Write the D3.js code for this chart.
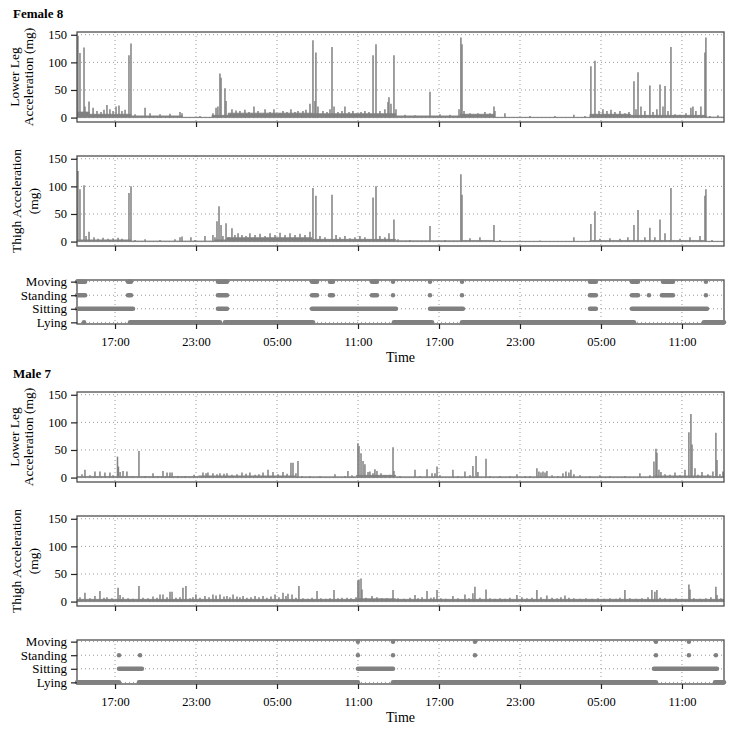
<!DOCTYPE html>
<html>
<head>
<meta charset="utf-8">
<script src="https://cdn.jsdelivr.net/npm/d3@7"></script>
<style>
body { margin: 0; background: #fff; }
svg text { font-family: "Liberation Serif", "Times New Roman", serif; fill: #000; }
</style>
</head>
<body>
<svg id="chart" width="734" height="732"></svg>
<script>
"use strict";

// Recording starts at 14:11; every time below is hours since the start.
const startTime = new Date(2014, 0, 1, 14, 11);
const durationHours = 47.93;

const stateNames = ["Lying", "Sitting", "Standing", "Moving"];
const yTicks = [0, 50, 100, 150];
const xTickLabels = ["17:00", "23:00", "05:00", "11:00"];

// ---- Female 8 ----
// baseline level steps [hour, mg]
const f8LegBase = [[0,10],[0.9,6],[4.0,3],[7.8,0.5],[10.0,4],[11.2,8],[17.4,7],[23.6,3],[28.4,6],[30.9,0.5],[38.0,6],[41.0,4],[46.6,1]];
// peaks [hour, mg]
const f8LegPeaks = [[0.07,148],[0.22,117],[0.52,127],[0.59,20],[0.89,29],[1.19,18],[1.48,12],[1.78,10],[2.00,14],[2.22,23],[2.44,15],[2.67,12],[2.89,20],[3.11,22],[3.33,12],[3.56,14],[3.85,113],[4.00,134],[4.30,6],[5.04,18],[5.41,8],[6.15,6],[6.89,7],[7.63,10],[7.78,8],[9.11,3],[10.07,8],[10.30,18],[10.44,20],[10.59,80],[10.67,72],[10.96,53],[11.04,30],[11.48,15],[11.78,13],[12.07,12],[12.44,14],[12.74,10],[13.11,20],[13.41,12],[13.93,15],[14.30,10],[14.59,15],[15.04,8],[15.26,12],[15.56,10],[15.85,15],[16.15,10],[16.37,12],[16.74,12],[16.96,14],[17.26,25],[17.48,140],[17.63,30],[17.70,118],[17.85,20],[18.22,12],[18.52,10],[18.74,15],[18.89,128],[19.04,20],[19.33,10],[19.63,12],[19.85,20],[20.15,10],[20.44,12],[20.74,8],[21.04,10],[21.33,12],[21.63,10],[21.93,113],[22.15,133],[22.44,12],[22.81,15],[23.04,28],[23.11,37],[23.26,25],[23.48,113],[23.63,15],[24.30,5],[25.04,4],[26.15,47],[26.89,6],[27.63,5],[28.30,15],[28.44,145],[28.52,133],[28.67,12],[29.11,8],[29.70,8],[30.22,10],[30.59,8],[30.89,20],[30.96,12],[31.70,8],[33.56,3],[35.41,3],[36.81,5],[37.63,3],[38.07,93],[38.37,103],[38.67,12],[38.96,15],[39.26,12],[39.56,14],[39.85,10],[40.22,12],[40.59,8],[40.89,10],[41.26,66],[41.41,15],[41.56,82],[41.78,20],[42.07,12],[42.44,58],[42.67,10],[42.96,15],[43.19,60],[43.41,20],[43.56,57],[43.78,12],[44.00,128],[44.30,6],[44.67,5],[45.11,8],[45.48,18],[45.63,20],[45.85,12],[46.22,20],[46.52,118],[46.59,145],[46.89,3],[47.48,4]];

const f8ThighBase = [[0,3],[4.0,1],[10.2,3],[11.1,7],[17.4,4],[23.6,1.5],[28.4,2],[30.9,0.5],[38.0,2],[46.6,0.5]];
const f8ThighPeaks = [[0.07,128],[0.22,95],[0.52,102],[0.67,10],[0.89,18],[1.26,8],[1.56,5],[1.93,7],[2.30,5],[2.67,6],[3.04,7],[3.33,5],[3.85,88],[4.00,100],[4.30,3],[5.04,4],[6.15,3],[7.26,4],[7.63,8],[7.78,9],[8.44,8],[8.74,3],[9.48,10],[10.07,12],[10.22,8],[10.37,37],[10.52,64],[10.67,30],[10.81,10],[11.04,33],[11.26,8],[11.48,24],[11.70,12],[11.93,15],[12.22,12],[12.52,10],[12.81,15],[13.19,12],[13.56,14],[13.93,10],[14.30,15],[14.67,12],[15.04,16],[15.41,12],[15.78,15],[16.15,12],[16.52,14],[16.89,12],[17.26,18],[17.48,97],[17.70,83],[18.00,10],[18.37,8],[18.89,85],[19.19,12],[19.48,8],[19.85,10],[20.22,6],[20.59,8],[20.96,10],[21.33,8],[21.93,80],[22.15,100],[22.44,10],[22.81,8],[23.11,15],[23.48,40],[23.78,4],[24.67,3],[26.15,28],[27.26,3],[28.44,122],[28.52,85],[29.11,6],[29.85,8],[30.89,30],[31.33,3],[34.30,2],[36.81,8],[38.07,32],[38.37,55],[38.74,5],[39.48,6],[40.22,5],[40.81,8],[41.26,30],[41.56,57],[42.07,8],[42.44,25],[42.81,8],[43.19,40],[43.56,15],[44.00,97],[44.67,5],[45.41,8],[46.15,10],[46.52,83],[46.59,95],[47.04,3]];

// state intervals [from hour, to hour]
const f8Lying = [[0.52,0.52],[3.93,10.59],[10.96,17.48],[23.48,26.30],[28.52,38.22],[38.30,41.26],[46.44,47.93]];
const f8Sitting = [[0,4.15],[10.44,11.11],[17.41,23.63],[26.15,28.59],[38.0,38.44],[41.11,46.67]];
const f8Standing = [[0,0.6],[3.78,4.0],[10.44,11.11],[17.41,17.78],[18.74,18.96],[21.85,22.22],[23.41,23.41],[26.15,26.15],[28.52,28.52],[38.0,38.44],[41.11,41.56],[42.37,42.37],[43.33,44.15],[46.59,46.59]];
const f8Moving = [[0,0.6],[3.78,4.0],[10.44,11.11],[17.41,17.78],[18.74,18.96],[21.85,22.22],[23.41,23.41],[26.15,26.15],[28.52,28.52],[38.0,38.44],[41.11,41.56],[43.41,44.15],[46.59,46.59]];

// ---- Male 7 ----
const m7LegBase = [[0,2],[9.0,3],[16.2,1.5],[20.7,4],[23.6,1.5],[42.8,3],[47.0,2]];
const m7LegPeaks = [[0.37,6],[0.59,14],[0.96,4],[1.33,11],[1.70,11],[2.07,9],[2.44,9],[2.67,4],[3.00,38],[3.07,20],[3.19,10],[3.41,12],[3.70,11],[4.07,3],[4.59,48],[5.04,3],[5.63,8],[6.00,3],[6.37,12],[6.67,9],[6.89,9],[7.04,9],[7.48,3],[8.00,3],[8.67,5],[9.33,9],[9.56,8],[9.70,9],[10.07,8],[10.37,6],[10.59,8],[10.89,7],[11.11,8],[11.48,5],[11.85,6],[12.22,9],[12.52,7],[12.81,9],[13.19,5],[13.48,6],[13.78,9],[14.15,14],[14.52,10],[14.89,6],[15.26,10],[15.56,7],[15.85,27],[16.00,27],[16.22,8],[16.37,30],[16.67,3],[17.26,3],[18.00,3],[19.11,6],[19.85,3],[20.07,12],[20.37,4],[20.81,62],[20.89,57],[21.04,44],[21.19,30],[21.33,24],[21.56,10],[21.70,11],[21.93,8],[22.07,15],[22.22,12],[22.52,8],[22.81,4],[23.19,5],[23.41,55],[23.48,12],[23.93,3],[25.04,14],[25.41,3],[25.93,15],[26.30,8],[26.52,8],[26.67,20],[26.89,4],[27.85,14],[28.22,3],[28.74,11],[29.11,4],[29.33,21],[29.56,39],[29.70,10],[30.30,34],[30.59,3],[31.33,3],[32.07,3],[32.59,6],[33.19,3],[33.56,3],[34.07,17],[34.22,11],[34.37,9],[34.52,11],[34.67,9],[34.81,12],[35.19,4],[35.63,3],[36.00,8],[36.22,11],[36.44,9],[36.59,14],[36.81,6],[37.26,4],[38.00,3],[38.74,4],[39.48,3],[40.59,3],[41.70,8],[42.44,4],[42.74,29],[42.89,52],[42.96,45],[43.11,14],[43.26,10],[43.56,6],[43.93,5],[44.30,9],[44.67,4],[45.04,14],[45.33,82],[45.48,115],[45.56,60],[45.78,17],[46.00,5],[46.30,10],[46.74,6],[47.11,11],[47.33,81],[47.41,32],[47.63,6],[47.85,11]];

const m7ThighBase = [[0,4],[20.7,5],[23.6,4]];
const m7ThighPeaks = [[0.22,8],[0.59,16],[0.96,6],[1.33,10],[1.70,19],[2.00,7],[2.22,8],[2.59,6],[3.04,25],[3.19,12],[3.41,8],[3.78,6],[4.15,5],[4.59,28],[4.89,7],[5.26,6],[5.63,9],[5.93,7],[6.15,13],[6.37,13],[6.67,8],[6.89,18],[7.04,18],[7.33,7],[7.63,8],[7.85,25],[8.07,28],[8.37,6],[8.59,8],[8.81,13],[9.11,7],[9.48,10],[9.78,8],[10.07,13],[10.30,11],[10.59,13],[10.89,9],[11.11,10],[11.33,8],[11.56,13],[11.85,9],[12.07,8],[12.30,10],[12.59,7],[12.89,8],[13.19,10],[13.48,8],[13.78,10],[14.07,7],[14.37,9],[14.67,13],[14.96,8],[15.26,16],[15.48,10],[15.63,14],[15.93,13],[16.22,7],[16.44,28],[16.74,6],[17.11,5],[17.41,7],[17.78,19],[18.07,6],[18.44,5],[18.74,6],[19.04,21],[19.33,6],[19.63,7],[20.00,7],[20.30,6],[20.67,8],[20.81,38],[20.89,40],[21.04,42],[21.11,22],[21.41,7],[21.85,10],[22.22,8],[22.59,6],[22.96,6],[23.41,21],[23.78,6],[24.22,5],[24.67,7],[25.04,12],[25.26,6],[25.56,8],[25.93,19],[26.22,7],[26.44,8],[26.67,21],[26.96,6],[27.33,5],[27.85,10],[28.22,6],[28.74,13],[29.04,6],[29.33,15],[29.48,27],[29.85,7],[30.30,22],[30.59,6],[30.96,5],[31.33,6],[31.70,5],[32.07,7],[32.59,12],[32.96,8],[33.33,6],[33.70,7],[34.07,21],[34.37,8],[34.81,11],[35.19,7],[35.56,6],[35.85,8],[36.15,11],[36.44,7],[36.81,6],[37.26,5],[37.70,6],[38.15,5],[38.59,6],[39.04,5],[39.48,6],[39.93,5],[40.22,7],[40.59,21],[40.96,6],[41.41,5],[41.85,6],[42.30,8],[42.59,21],[42.81,18],[42.96,21],[43.19,7],[43.56,6],[43.93,5],[44.37,6],[44.81,5],[45.33,31],[45.41,22],[45.70,6],[46.15,5],[46.59,6],[46.96,8],[47.33,27],[47.41,12],[47.70,6]];

const m7Lying = [[0,3.11],[4.59,20.81],[23.41,42.89],[47.26,47.93]];
const m7Sitting = [[3.11,4.81],[20.81,23.41],[42.74,47.41]];
const m7Standing = [[3.11,3.11],[4.67,4.67],[20.81,20.81],[23.41,23.41],[29.48,29.48],[42.89,42.89],[45.33,45.33],[47.33,47.33]];
const m7Moving = [[20.81,20.81],[23.41,23.41],[29.48,29.48],[42.89,42.89],[45.33,45.33]];

// ---- drawing ----
const svg = d3.select("#chart");
const left = 77, right = 724;
const markColor = "#808080";
const frameColor = "#4d4d4d";
const gridColor = "#9a9a9a";

const at = h => new Date(startTime.getTime() + h * 3600e3);
const x = d3.scaleTime().domain([startTime, at(durationHours)]).range([left, right]);
const fmt = d3.timeFormat("%H:%M");
const xTicks = d3.timeHour.range(startTime, at(durationHours)).filter(d => xTickLabels.includes(fmt(d)));

let clipCount = 0;

function frame(g, top, h) {
    g.append("rect")
        .attr("x", left).attr("y", top)
        .attr("width", right - left).attr("height", h)
        .attr("fill", "none")
        .attr("stroke", frameColor)
        .attr("stroke-width", 1.3);
}

function clip(top, h) {
    const id = "clip" + (clipCount++);
    svg.append("clipPath").attr("id", id)
        .append("rect").attr("x", left).attr("y", top).attr("width", right - left).attr("height", h);
    return "url(#" + id + ")";
}

function verticalGrid(g, top, h) {
    g.selectAll(".vgrid").data(xTicks).enter().append("line")
        .attr("class", "vgrid")
        .attr("x1", d => x(d)).attr("x2", d => x(d))
        .attr("y1", top).attr("y2", top + h)
        .attr("stroke", gridColor).attr("stroke-width", 1)
        .attr("stroke-dasharray", "1,3");
}

function bottomAxis(g, top, h, withLabels) {
    const ax = d3.axisBottom(x).tickValues(xTicks).tickSize(5).tickPadding(8)
        .tickFormat(withLabels ? fmt : "");
    const a = g.append("g").attr("transform", `translate(0,${top + h})`).call(ax);
    a.select(".domain").remove();
    a.selectAll(".tick line").attr("stroke", "#222").attr("stroke-width", 1.2);
    a.selectAll("text").style("font-size", "12.5px").style("font-family", "Liberation Serif, serif");
}

function accPanel(top, base, peaks, labelLines, labelX) {
    const h = 90;
    const g = svg.append("g");
    const y = d3.scaleLinear().domain([-8, 155]).range([top + h, top]);

    // dotted grid
    g.selectAll(".hgrid").data(yTicks).enter().append("line")
        .attr("class", "hgrid")
        .attr("x1", left).attr("x2", right)
        .attr("y1", d => y(d)).attr("y2", d => y(d))
        .attr("stroke", gridColor).attr("stroke-dasharray", "1,3");
    verticalGrid(g, top, h);

    const data = g.append("g").attr("clip-path", clip(top, h));

    // slowly varying floor of the signal
    const steps = base.concat([[durationHours, base[base.length - 1][1]]]);
    data.append("path")
        .datum(steps)
        .attr("fill", markColor)
        .attr("stroke", markColor)
        .attr("stroke-width", 0.8)
        .attr("d", d3.area().curve(d3.curveStepAfter)
            .x(d => x(at(d[0]))).y0(y(0)).y1(d => y(d[1])));

    // activity bursts
    data.selectAll(".peak").data(peaks).enter().append("line")
        .attr("class", "peak")
        .attr("x1", d => x(at(d[0]))).attr("x2", d => x(at(d[0])))
        .attr("y1", y(0)).attr("y2", d => y(d[1]))
        .attr("stroke", markColor).attr("stroke-width", 1.5);

    frame(g, top, h);

    const ax = d3.axisLeft(y).tickValues(yTicks).tickSize(6).tickPadding(4).tickSizeOuter(0);
    const a = g.append("g").attr("transform", `translate(${left},0)`).call(ax);
    a.select(".domain").remove();
    a.selectAll(".tick line").attr("stroke", "#222").attr("stroke-width", 1.2);
    a.selectAll("text").style("font-size", "12.5px").style("font-family", "Liberation Serif, serif");

    bottomAxis(g, top, h, false);

    const cy = top + h / 2;
    labelLines.forEach((txt, i) => {
        g.append("text")
            .attr("transform", `translate(${labelX[i]},${cy}) rotate(-90)`)
            .attr("text-anchor", "middle")
            .style("font-size", "13.5px")
            .text(txt);
    });
}

function statePanel(top, states) {
    const h = 44;
    const g = svg.append("g");
    const y = d3.scalePoint().domain(stateNames).range([top + h, top]).padding(0.12);

    g.selectAll(".hgrid").data(stateNames).enter().append("line")
        .attr("class", "hgrid")
        .attr("x1", left).attr("x2", right)
        .attr("y1", d => y(d)).attr("y2", d => y(d))
        .attr("stroke", gridColor).attr("stroke-dasharray", "1,3");
    verticalGrid(g, top, h);

    frame(g, top, h);

    const data = g.append("g");
    stateNames.forEach((name, i) => {
        data.selectAll(".s" + i).data(states[i]).enter().append("line")
            .attr("class", "s" + i)
            .attr("x1", d => x(at(d[0]))).attr("x2", d => x(at(d[1])))
            .attr("y1", y(name)).attr("y2", y(name))
            .attr("stroke", markColor)
            .attr("stroke-width", 4.5)
            .attr("stroke-linecap", "round");
    });

    const ax = d3.axisLeft(y).tickSize(6).tickPadding(4).tickSizeOuter(0);
    const a = g.append("g").attr("transform", `translate(${left},0)`).call(ax);
    a.select(".domain").remove();
    a.selectAll(".tick line").attr("stroke", "#222").attr("stroke-width", 1.2);
    a.selectAll("text").style("font-size", "13px").style("font-family", "Liberation Serif, serif");

    bottomAxis(g, top, h, true);

    g.append("text")
        .attr("x", (left + right) / 2).attr("y", top + h + 38)
        .attr("text-anchor", "middle")
        .style("font-size", "14px")
        .text("Time");
}

function subject(offset, title, legBase, legPeaks, thighBase, thighPeaks, states) {
    svg.append("text")
        .attr("x", 13).attr("y", offset + 18)
        .style("font-size", "13px").style("font-weight", "bold")
        .text(title);
    accPanel(offset + 32, legBase, legPeaks, ["Lower Leg", "Acceleration (mg)"], [19, 33]);
    accPanel(offset + 156, thighBase, thighPeaks, ["Thigh Acceleration", "(mg)"], [21, 38]);
    statePanel(offset + 280, states);
}

subject(0, "Female 8", f8LegBase, f8LegPeaks, f8ThighBase, f8ThighPeaks, [f8Lying, f8Sitting, f8Standing, f8Moving]);
subject(360, "Male 7", m7LegBase, m7LegPeaks, m7ThighBase, m7ThighPeaks, [m7Lying, m7Sitting, m7Standing, m7Moving]);
</script>
</body>
</html>
